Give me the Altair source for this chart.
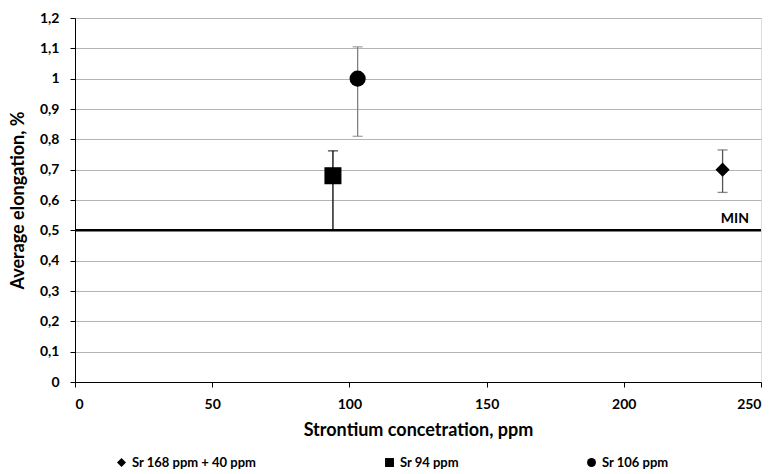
import altair as alt
import pandas as pd

series = ["Sr 168 ppm + 40 ppm", "Sr 94 ppm", "Sr 106 ppm"]
shapes = ["diamond", "square", "circle"]
sizes = [200, 290, 260]
bar_colors = ["#555555", "#000000", "#808080"]
strontium = [236, 94, 103]
elongation = [0.70, 0.68, 1.0]
err_low = [0.625, 0.50, 0.81]
err_high = [0.765, 0.762, 1.105]
min_value = [0.5]
min_label = ["MIN"]
y_ticks = [0, 0.1, 0.2, 0.3, 0.4, 0.5, 0.6, 0.7, 0.8, 0.9, 1.0, 1.1, 1.2]
x_ticks = [0, 50, 100, 150, 200, 250]

df = pd.DataFrame({
    "series": series,
    "sr": strontium,
    "el": elongation,
    "lo": err_low,
    "hi": err_high,
    "bc": bar_colors,
    "sz": sizes,
})
df_min = pd.DataFrame({"y": min_value, "x": [250], "label": min_label})

FONT = "Lato"
comma = "replace(format(datum.value, '.1~f'), '.', ',')"

x_scale = alt.Scale(domain=[0, 250], nice=False)
y_scale = alt.Scale(domain=[0, 1.2], nice=False)

x_axis = alt.Axis(values=x_ticks, grid=False, labelOverlap=False,
                  labelFont=FONT, labelFontWeight="bold", labelFontSize=14,
                  titleFont=FONT, titleFontWeight="bold", titleFontSize=18,
                  labelPadding=10, titlePadding=10, domainColor="black",
                  tickColor="black", tickSize=5, labelColor="black",
                  titleColor="black")
y_axis = alt.Axis(values=y_ticks, grid=True, labelOverlap=False,
                  gridColor="#b4b4b4", labelExpr=comma,
                  labelFont=FONT, labelFontWeight="bold", labelFontSize=14,
                  titleFont=FONT, titleFontWeight="bold", titleFontSize=18,
                  labelPadding=11, titlePadding=12, domainColor="black",
                  tickColor="black", tickSize=5, labelColor="black",
                  titleColor="black")
XT = "Strontium concetration, ppm"
YT = "Average elongation, %"

base = alt.Chart(df)

rules = base.mark_rule(strokeWidth=1.3).encode(
    x=alt.X("sr:Q", scale=x_scale, title=XT, axis=x_axis),
    y=alt.Y("lo:Q", scale=y_scale, title=YT, axis=y_axis),
    y2="hi:Q",
    color=alt.Color("bc:N", scale=None),
)
caps_hi = base.mark_tick(orient="horizontal", size=10, thickness=1.3).encode(
    x=alt.X("sr:Q", scale=x_scale, title=XT, axis=x_axis),
    y=alt.Y("hi:Q", scale=y_scale, title=YT, axis=y_axis),
    color=alt.Color("bc:N", scale=None))
caps_lo = base.mark_tick(orient="horizontal", size=10, thickness=1.3).encode(
    x=alt.X("sr:Q", scale=x_scale, title=XT, axis=x_axis),
    y=alt.Y("lo:Q", scale=y_scale, title=YT, axis=y_axis),
    color=alt.Color("bc:N", scale=None))

min_line = alt.Chart(df_min).mark_rule(color="black", strokeWidth=2.5).encode(
    y=alt.Y("y:Q", scale=y_scale, title=YT, axis=y_axis))
min_text = alt.Chart(df_min).mark_text(
    align="right", baseline="bottom", dx=-12, dy=-4, font=FONT,
    fontWeight="bold", fontSize=14, color="black").encode(
    x=alt.X("x:Q", scale=x_scale, title=XT, axis=x_axis),
    y=alt.Y("y:Q", scale=y_scale, title=YT, axis=y_axis),
    text="label:N")

points = base.mark_point(filled=True, opacity=1, color="black").encode(
    x=alt.X("sr:Q", scale=x_scale, title=XT, axis=x_axis),
    y=alt.Y("el:Q", scale=y_scale, title=YT, axis=y_axis),
    shape=alt.Shape("series:N", scale=alt.Scale(domain=series, range=shapes),
                    legend=alt.Legend(title=None, orient="none", legendX=40,
                                      legendY=438, direction="horizontal",
                                      columns=3, columnPadding=125,
                                      labelFont=FONT, labelFontWeight="bold",
                                      labelFontSize=13, labelColor="black",
                                      symbolSize=80, symbolFillColor="black",
                                      symbolStrokeColor="black",
                                      labelLimit=300)),
    size=alt.Size("sz:Q", scale=None),
)

chart = alt.layer(rules, caps_hi, caps_lo, min_line, min_text, points).properties(
    width=686, height=364,
    padding={"left": 75, "top": 18, "right": 15, "bottom": 92},
    autosize=alt.AutoSizeParams(type="none"),
).configure_view(stroke="black", strokeWidth=1).configure(background="white")

chart.save("out.html", embed_options={"renderer": "svg", "actions": False})
